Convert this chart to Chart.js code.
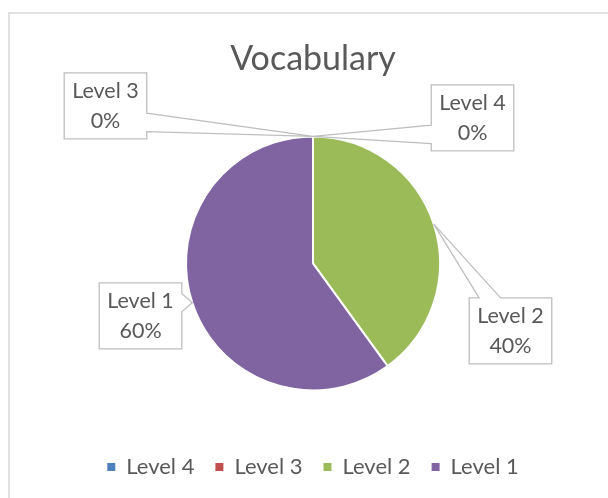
<!DOCTYPE html>
<html>
<head>
<meta charset="utf-8">
<script src="https://cdn.jsdelivr.net/npm/chart.js@4.4.1/dist/chart.umd.min.js"></script>
<style>
  html, body {margin: 0; padding: 0; background: #fff;}
  #wrap {width: 608px; height: 498px;}
</style>
</head>
<body>
<div id="wrap"><canvas id="pieDiagram" width="608" height="498"></canvas></div>
<script>
var levels = ['Level 4', 'Level 3', 'Level 2', 'Level 1']; // same order as the legend
var percents = [0, 0, 40, 60];
var levelColors = ['#4F81BD', '#C0504D', '#9BBB59', '#8064A2'];
var chartTitle = 'Vocabulary';

var textColor = '#595959', lineColor = '#BFBFBF';
var fontName = 'Lato, "Open Sans", sans-serif';

// where each callout box sits, in radius units from the pie centre
var calloutSpots = [[1.256, -1.146], [-1.634, -1.24], [1.555, 0.531], [-1.358, 0.413]];

function clamp(v, a, b){
    return Math.max(a, Math.min(b, v));
}

function drawCallout(c, box, tip){ // box with a wedge pointing at the slice
    var L = box.l, T = box.t, R = box.r, B = box.b;
    var w = R - L, h = B - T;
    var dx = tip.x - (L + R) / 2, dy = tip.y - (T + B) / 2;
    var side;
    if (Math.abs(dx) / w > Math.abs(dy) / h) {
        side = dx > 0 ? 'right' : 'left';
    } else {
        side = dy > 0 ? 'bottom' : 'top';
    }
    var m, hw;
    c.fillStyle = '#fff';
    c.fillRect(L, T, w, h);
    c.beginPath();
    c.moveTo(L, T);
    if (side === 'top') {
        m = clamp(tip.x, L + w * 0.25, R - w * 0.25); hw = w * 0.13;
        c.lineTo(m - hw, T); c.lineTo(tip.x, tip.y); c.lineTo(m + hw, T);
    }
    c.lineTo(R, T);
    if (side === 'right') {
        m = clamp(tip.y, T + h * 0.25, B - h * 0.25); hw = h * 0.14;
        c.lineTo(R, m - hw); c.lineTo(tip.x, tip.y); c.lineTo(R, m + hw);
    }
    c.lineTo(R, B);
    if (side === 'bottom') {
        m = clamp(tip.x, L + w * 0.25, R - w * 0.25); hw = w * 0.13;
        c.lineTo(m + hw, B); c.lineTo(tip.x, tip.y); c.lineTo(m - hw, B);
    }
    c.lineTo(L, B);
    if (side === 'left') {
        m = clamp(tip.y, T + h * 0.25, B - h * 0.25); hw = h * 0.14;
        c.lineTo(L, m + hw); c.lineTo(tip.x, tip.y); c.lineTo(L, m - hw);
    }
    c.closePath();
    c.strokeStyle = lineColor;
    c.lineWidth = 1.3;
    c.stroke();
}

var framePlugin = { // light grey frame of the chart
    id: 'frame',
    beforeDraw: function(chart){
        var c = chart.ctx;
        c.save();
        c.strokeStyle = '#D9D9D9';
        c.lineWidth = 1.5;
        c.strokeRect(9, 13, 700, 600);
        c.restore();
    }
};

var calloutPlugin = { // labels "Level N / x%" with pointers
    id: 'callouts',
    afterDatasetsDraw: function(chart, args, opts){
        var c = chart.ctx;
        var arcs = chart.getDatasetMeta(0).data;
        var values = chart.data.datasets[0].data;
        var total = values.reduce(function(s, v){ return s + v; }, 0);
        c.save();
        c.font = '21.5px ' + fontName;
        arcs.forEach(function(arc, i){
            var p = arc.getProps(['x', 'y', 'startAngle', 'endAngle', 'outerRadius'], true);
            var mid = (p.startAngle + p.endAngle) / 2;
            var tip = {x: p.x + Math.cos(mid) * p.outerRadius, y: p.y + Math.sin(mid) * p.outerRadius};
            var lines = [chart.data.labels[i], Math.round(values[i] / total * 100) + '%'];
            var tw = Math.max(c.measureText(lines[0]).width, c.measureText(lines[1]).width);
            var bw = tw + 16, bh = 66;
            var cx = p.x + opts.spots[i][0] * p.outerRadius, cy = p.y + opts.spots[i][1] * p.outerRadius;
            drawCallout(c, {l: cx - bw / 2, t: cy - bh / 2, r: cx + bw / 2, b: cy + bh / 2}, tip);
            c.fillStyle = textColor;
            c.textAlign = 'center';
            c.textBaseline = 'middle';
            c.fillText(lines[0], cx, cy - 15);
            c.fillText(lines[1], cx, cy + 15);
        });
        c.restore();
    }
};

var ctxPie = document.getElementById('pieDiagram').getContext('2d');
var pieChart = new Chart(ctxPie, {
    type: 'pie',
    data: {
        labels: levels,
        datasets: [{
            data: percents,
            backgroundColor: levelColors,
            borderColor: '#fff',
            borderWidth: 2,
            radius: 127
        }]
    },
    options: {
        responsive: false,
        maintainAspectRatio: false,
        animation: false,
        layout: {padding: {left: 18, right: 0, top: 0, bottom: 10}},
        plugins: {
            title: {
                display: true,
                text: chartTitle,
                color: textColor,
                font: {family: fontName, size: 34, weight: 'normal'},
                padding: {top: 39, bottom: 12}
            },
            legend: {
                position: 'bottom',
                labels: {
                    usePointStyle: true,
                    pointStyle: 'rect',
                    boxWidth: 8,
                    boxHeight: 8,
                    padding: 21,
                    color: textColor,
                    font: {family: fontName, size: 22},
                    generateLabels: function(chart){
                        var items = Chart.overrides.pie.plugins.legend.labels.generateLabels(chart);
                        items.forEach(function(it){ it.lineWidth = 0; it.strokeStyle = it.fillStyle; });
                        return items;
                    }
                }
            },
            tooltip: {enabled: false},
            callouts: {spots: calloutSpots}
        }
    },
    plugins: [framePlugin, calloutPlugin]
});
</script>
</body>
</html>
